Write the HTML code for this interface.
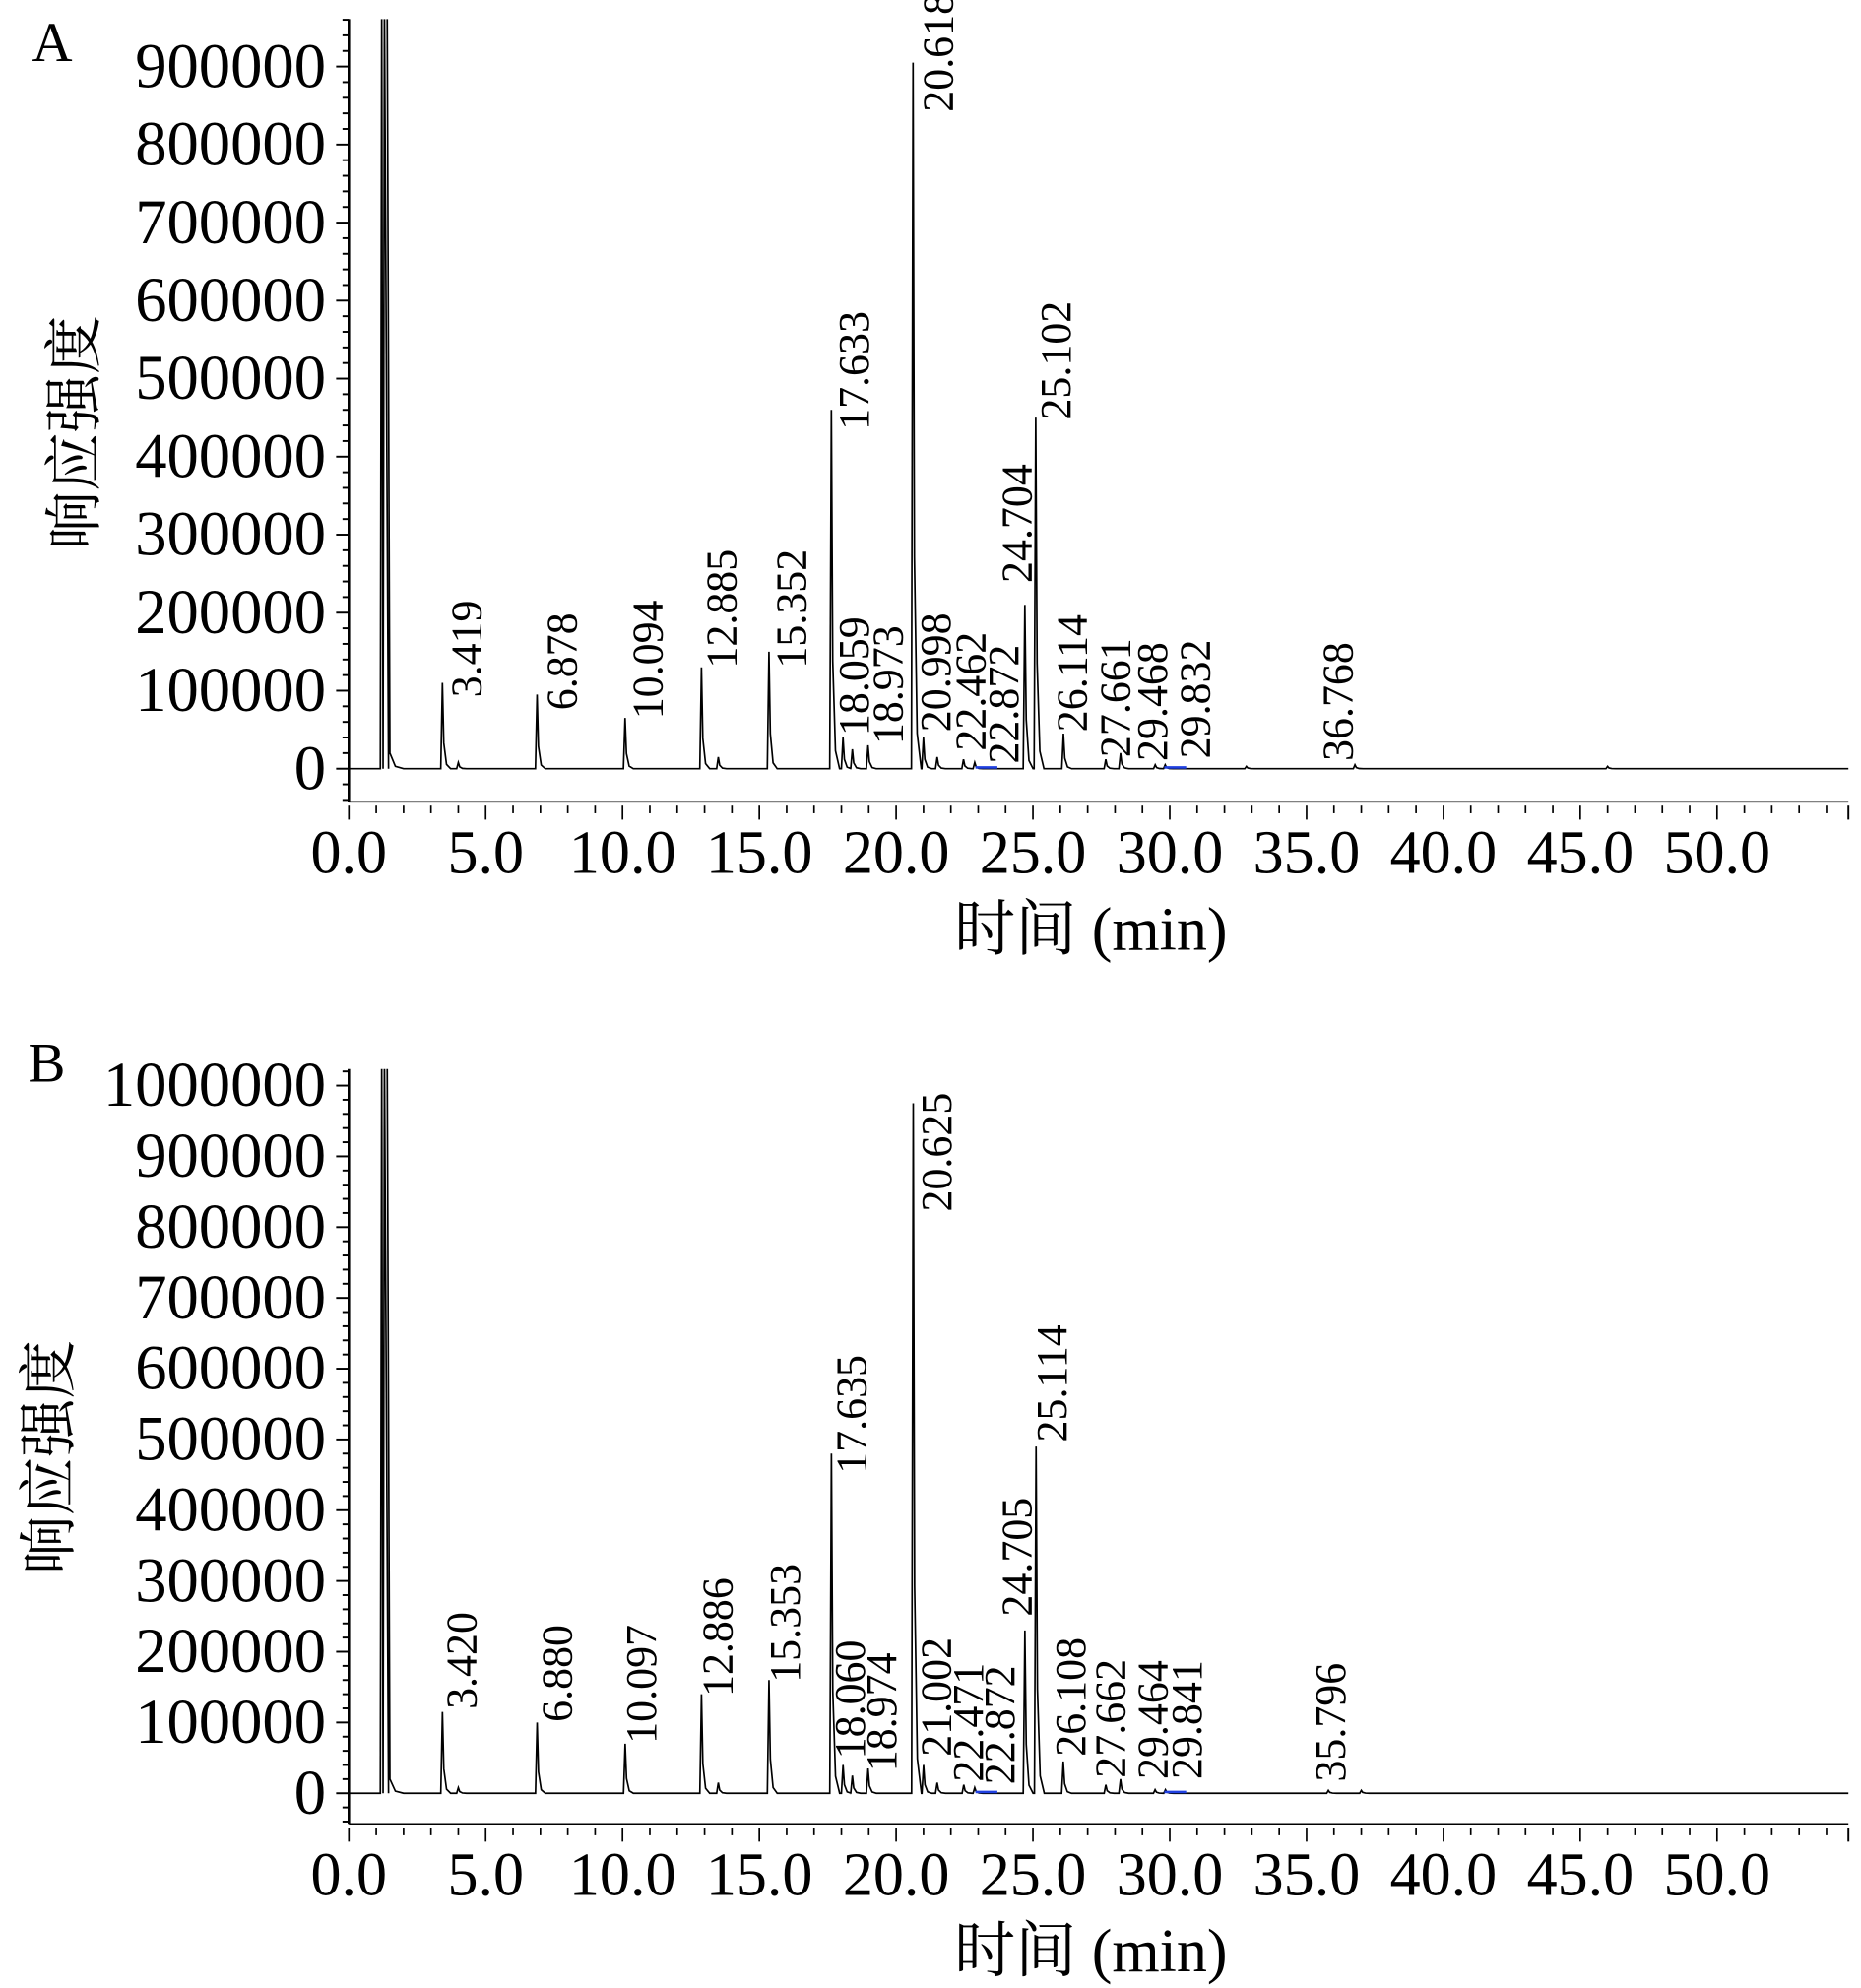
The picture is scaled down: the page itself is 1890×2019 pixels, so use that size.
<!DOCTYPE html>
<html><head><meta charset="utf-8"><style>
html,body{margin:0;padding:0;background:#fff;}
svg{display:block;}
text{font-family:"Liberation Serif","Noto Serif CJK SC",serif;fill:#000;}
</style></head><body>
<svg id="chart" width="1890" height="2019" viewBox="0 0 1462 1562" xmlns="http://www.w3.org/2000/svg"></svg>
<script>
// ---- Panel A data ----
const peaksA_t = [3.419, 4.0, 6.878, 10.094, 12.885, 13.5, 15.352, 17.633, 18.059, 18.4, 18.973, 20.618, 20.998, 21.5, 22.462, 22.872, 24.704, 25.102, 26.114, 27.661, 28.2, 29.468, 29.832, 32.8, 36.768, 46.0];
const peaksA_h = [110000, 8000, 95000, 65000, 130000, 15000, 150000, 460000, 40000, 25000, 30000, 905000, 40000, 15000, 12000, 8000, 210000, 450000, 45000, 12000, 20000, 5000, 5000, 3000, 5000, 3000];
const labelsA = ["3.419","6.878","10.094","12.885","15.352","17.633","18.059","18.973","20.618","20.998","22.462","22.872","24.704","25.102","26.114","27.661","29.468","29.832","36.768"];
// label layout (pixel nudges / bottoms) kept separate from data
const layoutA_dx = [18.5,19,17,15,17,17,8,15,19,9,5,22,-7,15,6,7,-3,23,-14];
const layoutA_bottom = [548,558,565,525,525,338,578,585,88,575,590,600,458,330,575,595,598,596,598];
const yTicksA = [0,100000,200000,300000,400000,500000,600000,700000,800000,900000];
// ---- Panel B data ----
const peaksB_t = [3.420, 4.0, 6.880, 10.097, 12.886, 13.5, 15.353, 17.635, 18.060, 18.4, 18.974, 20.625, 21.002, 21.5, 22.471, 22.872, 24.705, 25.114, 26.108, 27.662, 28.2, 29.464, 29.841, 35.796, 37.0];
const peaksB_h = [115000, 8000, 100000, 70000, 140000, 15000, 160000, 480000, 40000, 25000, 35000, 975000, 40000, 15000, 12000, 8000, 230000, 490000, 45000, 12000, 20000, 5000, 5000, 4000, 4000];
const labelsB = ["3.420","6.880","10.097","12.886","15.353","17.635","18.060","18.974","20.625","21.002","22.471","22.872","24.705","25.114","26.108","27.662","29.464","29.841","35.796"];
const layoutB_dx = [14.5,15,12,12,12,15,5,10,18,9.5,3,19,-7,12,5,3,-2.5,16,1];
const layoutB_bottom = [1343,1353,1370,1333,1322,1158,1382,1392,952,1380,1400,1402,1270,1133,1380,1397,1398,1398,1400];
const yTicksB = [0,100000,200000,300000,400000,500000,600000,700000,800000,900000,1000000];
const xTicks = [0,5,10,15,20,25,30,35,40,45,50];

const NS="http://www.w3.org/2000/svg";
const svg=document.getElementById('chart');
const FF='"Liberation Serif","Noto Serif CJK SC",serif';
function mk(tag,attrs,parent){const e=document.createElementNS(NS,tag);for(const k in attrs)e.setAttribute(k,attrs[k]);if(tag==='text')e.setAttribute('font-family',FF);(parent||svg).appendChild(e);return e;}

function panel(cfg){
  const g=mk('g',{});
  
  
  const x0=274, pxPerMin=21.5;
  const xs=t=>x0+t*pxPerMin;
  const ys=v=>cfg.y0-v*cfg.pxPerUnit;
  const tMax=54.8;
  const cid='clip'+cfg.name;
  const cp=mk('clipPath',{id:cid},g); mk('rect',{x:x0,y:cfg.top,width:1200,height:cfg.axisY-cfg.top},cp);
  const ya=mk('line',{x1:x0,y1:cfg.top,x2:x0,y2:cfg.axisY,stroke:'#000','stroke-width':2},g);
  
  
  const vmin=-(cfg.axisY-cfg.y0)/cfg.pxPerUnit, vmax=(cfg.y0-cfg.top)/cfg.pxPerUnit;
  for(let v=Math.ceil(vmin/20000)*20000; v<=vmax; v+=20000){
    const major=(v%100000===0);
    mk('line',{x1:x0-(major?10:5),y1:ys(v),x2:x0,y2:ys(v),stroke:'#000','stroke-width':1.5},g);
  }
  cfg.yTicks.forEach(v=>{
    const t=mk('text',{x:256,y:ys(v)+16,'font-size':50,'text-anchor':'end'},g);
    t.textContent=String(v);
    
    
  });
  const xa=mk('line',{x1:x0,y1:cfg.axisY,x2:xs(tMax),y2:cfg.axisY,stroke:'#000','stroke-width':1.2},g);
  
  
  for(let m=0;m<=54;m++){
    const major=(m%5===0);
    mk('line',{x1:xs(m),y1:cfg.axisY+3,x2:xs(m),y2:cfg.axisY+(major?14:9),stroke:'#000','stroke-width':1.3},g);
  }
  mk('line',{x1:xs(tMax),y1:cfg.axisY+3,x2:xs(tMax),y2:cfg.axisY+14,stroke:'#000','stroke-width':1.5},g);
  xTicks.forEach(m=>{
    const t=mk('text',{x:xs(m),y:cfg.axisY+56,'font-size':48,'text-anchor':'middle'},g);
    t.textContent=m.toFixed(1);
    
    
  });
  const xt=mk('text',{x:857,y:cfg.axisY+116,'font-size':48,'text-anchor':'middle'},g);
  xt.textContent='时间 (min)';
  
  
  const yt=mk('text',{x:0,y:0,'font-size':46,'text-anchor':'middle',transform:`translate(${cfg.ytX},${cfg.ytY}) rotate(-90)`},g);
  yt.textContent='响应强度';
  
  
  const pl=mk('text',{x:cfg.plX,y:cfg.plY,'font-size':44},g);
  pl.textContent=cfg.letter;
  
  
  let d=`M${xs(0)},${ys(0)} L${xs(1.15)},${ys(0)} L${xs(1.2)},${cfg.top-10} L${xs(1.25)},${ys(0)} L${xs(1.3)},${cfg.top-10} L${xs(1.45)},${ys(0)} `;
  d+=`M${xs(1.4)},${cfg.top-10} L${xs(1.5)},${ys(20000)} L${xs(1.7)},${ys(3000)} L${xs(2)},${ys(0)} `;
  const order=cfg.pt.map((t,i)=>i).sort((a,b)=>cfg.pt[a]-cfg.pt[b]);
  order.forEach(i=>{
    const t=cfg.pt[i],h=cfg.ph[i];
    d+=`L${xs(t-0.06)},${ys(0)} L${xs(t)},${ys(h)} L${xs(t+0.05)},${ys(h*0.3)} L${xs(t+0.15)},${ys(h*0.05)} L${xs(t+0.3)},${ys(0)} `;
  });
  d+=`L${xs(tMax)},${ys(0)}`;
  const tr=mk('path',{d:d,fill:'none',stroke:'#000','stroke-width':1.3,'clip-path':`url(#${cid})`},g);
  
  
  [23.3,30.2].forEach(t=>{
    const b=mk('line',{x1:xs(t-0.4),y1:ys(0)-1,x2:xs(t+0.4),y2:ys(0)-1,stroke:'#2040e0','stroke-width':2},g);
    
    
  });
  cfg.labels.forEach((lab,i)=>{
    const t=parseFloat(lab);
    const bx=xs(t)+cfg.dx[i]+12;
    const tx=mk('text',{x:0,y:0,'font-size':34,transform:`translate(${bx},${cfg.bottom[i]}) rotate(-90)`},g);
    tx.textContent=lab;
    
    
  });
}
panel({name:'panel-a',letter:'A',plX:25,plY:48,top:15,y0:604,axisY:630,pxPerUnit:61.3/100000,yTicks:yTicksA,pt:peaksA_t,ph:peaksA_h,labels:labelsA,dx:layoutA_dx,bottom:layoutA_bottom,ytX:74,ytY:340});
panel({name:'panel-b',letter:'B',plX:22,plY:850,top:840,y0:1409,axisY:1433,pxPerUnit:55.6/100000,yTicks:yTicksB,pt:peaksB_t,ph:peaksB_h,labels:labelsB,dx:layoutB_dx,bottom:layoutB_bottom,ytX:54,ytY:1145});
</script>
</body></html>
